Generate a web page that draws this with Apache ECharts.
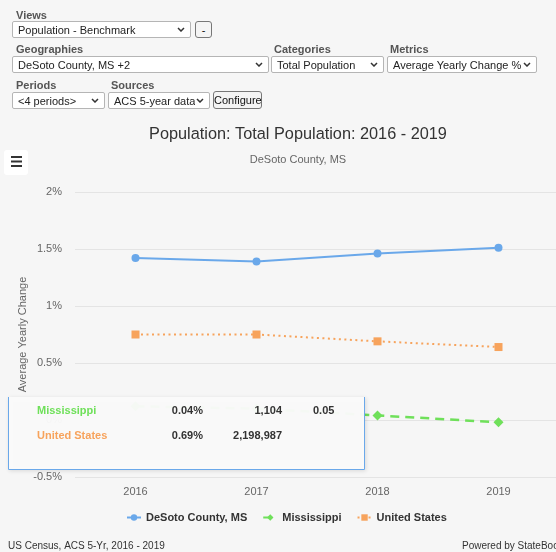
<!DOCTYPE html>
<html>
<head>
<meta charset="utf-8">
<script src="https://cdn.jsdelivr.net/npm/echarts@6/dist/echarts.min.js"></script>
<style>
  html, body { margin: 0; padding: 0; width: 556px; height: 552px; overflow: hidden; background: #f6f6f6; }
  body { position: relative; font-family: "Liberation Sans", Arial, sans-serif; }
  #chart { position: absolute; left: 0; top: 0; width: 596px; height: 552px; }
  .lbl { position: absolute; font-size: 11px; font-weight: bold; color: #555; z-index: 2; }
  select { position: absolute; z-index: 2; height: 17px; font-size: 11px; font-family: "Liberation Sans", Arial, sans-serif;
           color: #222; border: 1px solid #b5b5b5; border-radius: 2px; padding: 0 14px 0 5px; box-sizing: border-box;
           -webkit-appearance: none; appearance: none;
           background: #fff url("data:image/svg+xml,%3Csvg xmlns='http://www.w3.org/2000/svg' width='8' height='5'%3E%3Cpath d='M1 1l3 3 3-3' fill='none' stroke='%23333' stroke-width='1.5'/%3E%3C/svg%3E") no-repeat right 5px center; }
  button { position: absolute; z-index: 2; font-size: 11px; font-family: "Liberation Sans", Arial, sans-serif; color: #111;
           background: #f4f4f4; border: 1px solid #777; border-radius: 3px; padding: 0; box-sizing: border-box; }
</style>
</head>
<body>
<div class="lbl" style="left:16px;top:9px">Views</div>
<select style="left:12px;top:21px;width:179px"><option>Population - Benchmark</option></select>
<button style="left:195px;top:21px;width:17px;height:17px">-</button>

<div class="lbl" style="left:16px;top:43px">Geographies</div>
<select style="left:12px;top:56px;width:257px"><option>DeSoto County, MS +2</option></select>
<div class="lbl" style="left:274px;top:43px">Categories</div>
<select style="left:271px;top:56px;width:113px"><option>Total Population</option></select>
<div class="lbl" style="left:390px;top:43px">Metrics</div>
<select style="left:387px;top:56px;width:150px"><option>Average Yearly Change %</option></select>

<div class="lbl" style="left:16px;top:79px">Periods</div>
<select style="left:12px;top:92px;width:93px"><option>&lt;4 periods&gt;</option></select>
<div class="lbl" style="left:111px;top:79px">Sources</div>
<select style="left:108px;top:92px;width:102px"><option>ACS 5-year data</option></select>
<button style="left:213px;top:91px;width:49px;height:18px">Configure</button>

<div id="chart"></div>
<script>
// Average yearly change of total population, by period end year
const years = ['2016', '2017', '2018', '2019'];
const desoto = [1.42, 1.39, 1.46, 1.51];
const mississippi = [0.12, 0.10, 0.04, -0.02];
const unitedStates = [0.75, 0.75, 0.69, 0.64];
const yTicks = [-0.5, 0, 0.5, 1, 1.5, 2];

// Hover readout for the 2018 period
const tipIndex = 2;
const tipNames = ['Mississippi', 'United States'];
const tipCounts = [1104, 2198987];
const tipExtra = ['0.05', ''];

const FONT = '"Liberation Sans", Arial, sans-serif';
const C_BLUE = '#6aa8ea', C_GREEN = '#6fe05a', C_ORANGE = '#f7a35c';

const chart = echarts.init(document.getElementById('chart'), null, { renderer: 'canvas' });

const tipSeries = [mississippi, unitedStates];
const tipColors = [C_GREEN, C_ORANGE];
const tipText = [];
tipNames.forEach((name, i) => {
  const y = 411 + i * 25;
  const base = { zlevel: 1, z: 101 };
  tipText.push(
    { type: 'text', ...base, style: { x: 37, y: y, text: name, fill: tipColors[i], font: 'bold 11px ' + FONT, textVerticalAlign: 'middle' } },
    { type: 'text', ...base, style: { x: 203, y: y, text: tipSeries[i][tipIndex].toFixed(2) + '%', fill: '#333', font: 'bold 11px ' + FONT, textAlign: 'right', textVerticalAlign: 'middle' } },
    { type: 'text', ...base, style: { x: 282, y: y, text: tipCounts[i].toLocaleString('en-US'), fill: '#333', font: 'bold 11px ' + FONT, textAlign: 'right', textVerticalAlign: 'middle' } },
    { type: 'text', ...base, style: { x: 313, y: y, text: tipExtra[i], fill: '#333', font: 'bold 11px ' + FONT, textVerticalAlign: 'middle' } }
  );
});

chart.setOption({
  animation: false,
  backgroundColor: 'transparent',
  textStyle: { fontFamily: FONT },
  grid: { left: 75, top: 192, width: 484, height: 285, containLabel: false },
  xAxis: {
    type: 'category',
    data: years,
    boundaryGap: true,
    axisLine: { show: false },
    axisTick: { show: false },
    axisLabel: { color: '#666', fontSize: 11, margin: 9 }
  },
  yAxis: {
    type: 'value',
    min: yTicks[0],
    max: yTicks[yTicks.length - 1],
    interval: 0.5,
    name: 'Average Yearly Change',
    nameLocation: 'middle',
    nameRotate: 90,
    nameGap: 47,
    nameMoveOverlap: false,
    nameTextStyle: { color: '#666', fontSize: 11 },
    axisLine: { show: false },
    axisTick: { show: false },
    axisLabel: { color: '#666', fontSize: 11, margin: 13, formatter: v => v + '%' },
    splitLine: { lineStyle: { color: '#e4e4e4', width: 1 } }
  },
  legend: {
    left: 121,
    top: 507,
    itemGap: 15,
    itemWidth: 14,
    itemHeight: 8,
    textStyle: { color: '#333', fontSize: 11, fontWeight: 'bold' },
    data: ['DeSoto County, MS', 'Mississippi', 'United States']
  },
  series: [
    {
      name: 'DeSoto County, MS', type: 'line', data: desoto, color: C_BLUE,
      symbol: 'circle', symbolSize: 8, lineStyle: { width: 2 }
    },
    {
      name: 'Mississippi', type: 'line', data: mississippi, color: C_GREEN,
      symbol: 'diamond', symbolSize: 10, lineStyle: { width: 2.5, type: [9, 6] }
    },
    {
      name: 'United States', type: 'line', data: unitedStates, color: C_ORANGE,
      symbol: 'rect', symbolSize: 8, lineStyle: { width: 2, type: [2, 3.5] }
    }
  ],
  graphic: [
    { type: 'text', style: { x: 298, y: 135, text: 'Population: Total Population: 2016 - 2019', fill: '#333', font: '16.3px ' + FONT, textAlign: 'center', textVerticalAlign: 'middle' } },
    { type: 'text', style: { x: 298, y: 160, text: 'DeSoto County, MS', fill: '#666', font: '11px ' + FONT, textAlign: 'center', textVerticalAlign: 'middle' } },
    // export menu button
    { type: 'rect', shape: { x: 4, y: 150, width: 24, height: 25, r: 3 }, style: { fill: '#fff' } },
    { type: 'rect', shape: { x: 11, y: 156, width: 11, height: 2 }, style: { fill: '#333' } },
    { type: 'rect', shape: { x: 11, y: 160.5, width: 11, height: 2 }, style: { fill: '#333' } },
    { type: 'rect', shape: { x: 11, y: 165, width: 11, height: 2 }, style: { fill: '#333' } },
    // hover readout box, drawn on its own layer above the series
    { type: 'rect', zlevel: 1, z: 100, shape: { x: 8, y: 397, width: 357, height: 73 },
      style: { fill: 'rgba(250,250,250,0.97)', shadowBlur: 4, shadowOffsetX: 1, shadowOffsetY: 1, shadowColor: 'rgba(0,0,0,0.12)' } },
    { type: 'polyline', zlevel: 1, z: 100, shape: { points: [[8.5, 397], [8.5, 469.5], [364.5, 469.5], [364.5, 397]] },
      style: { stroke: C_BLUE, lineWidth: 1, fill: null } },
    ...tipText,
    { type: 'text', style: { x: 8, y: 546, text: 'US Census, ACS 5-Yr, 2016 - 2019', fill: '#333', font: '10px ' + FONT, textVerticalAlign: 'middle' } },
    { type: 'text', style: { x: 462, y: 546, text: 'Powered by StateBook', fill: '#333', font: '10px ' + FONT, textVerticalAlign: 'middle' } }
  ]
});
</script>
</body>
</html>
